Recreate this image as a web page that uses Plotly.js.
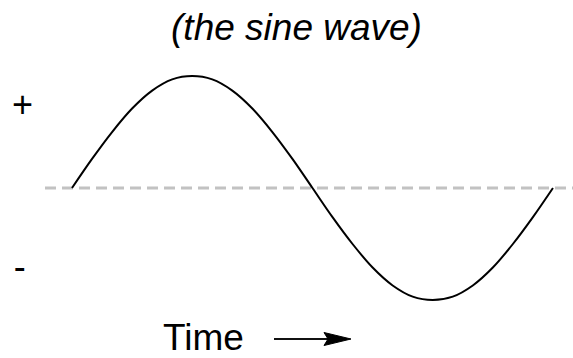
<!DOCTYPE html>
<html>
<head>
<meta charset="utf-8">
<script src="https://cdn.plot.ly/plotly-3.0.1.min.js"></script>
<style>html,body{margin:0;padding:0;background:#fff}</style>
</head>
<body>
<div id="sinePlot" style="width:573px;height:358px"></div>
<script>
// one full cycle, every 15 degrees
const phaseDeg = [0, 15, 30, 45, 60, 75, 90, 105, 120, 135, 150, 165, 180,
                  195, 210, 225, 240, 255, 270, 285, 300, 315, 330, 345, 360];
const amplitude = [0, 0.26, 0.5, 0.71, 0.87, 0.97, 1, 0.97, 0.87, 0.71, 0.5, 0.26, 0,
                   -0.26, -0.5, -0.71, -0.87, -0.97, -1, -0.97, -0.87, -0.71, -0.5, -0.26, 0];

const levelVals = [0.75, -0.7];
const levelText = ['+', '-\u2009'];

const FONT = 'Liberation Sans, Arial, sans-serif';

const drawSine = () => {
    const data = [{
        x: phaseDeg,
        y: amplitude,
        type: 'scatter',
        mode: 'lines',
        line: { color: '#000', width: 2, shape: 'spline', smoothing: 1 },
        hoverinfo: 'skip'
    }];

    // arrow after "Time", in paper units (plot spans x 45..573 px)
    const px = (p) => (p - 45) / 528;
    const arrowY = 1 - 339 / 358;

    const layout = {
        width: 573,
        height: 358,
        margin: { l: 45, r: 0, t: 0, b: 0 },
        paper_bgcolor: '#fff',
        plot_bgcolor: '#fff',
        showlegend: false,
        title: {
            text: '(the sine wave)',
            font: { family: FONT, size: 37, style: 'italic', color: '#000' },
            xref: 'container', x: 296.5 / 573, xanchor: 'center',
            yref: 'container', y: 1 - 27 / 358, yanchor: 'middle'
        },
        xaxis: {
            range: [-20.2, 375],
            showgrid: false, zeroline: false, showline: false,
            showticklabels: false, ticks: ''
        },
        yaxis: {
            range: [-1.518, 1.679],
            showgrid: false, zeroline: false, showline: false,
            tickvals: levelVals,
            ticktext: levelText,
            ticks: '',
            ticklabelstandoff: 11,
            tickfont: { family: FONT, size: 36, color: '#000' }
        },
        shapes: [{
            type: 'line', xref: 'paper', yref: 'y',
            x0: 0, x1: 1, y0: 0, y1: 0,
            line: { color: '#c2c2c2', width: 3, dash: '11px,6px' },
            layer: 'below'
        }, {
            type: 'line', xref: 'paper', yref: 'paper',
            x0: px(274), x1: px(330), y0: arrowY, y1: arrowY,
            line: { color: '#111', width: 2 }
        }, {
            type: 'path', xref: 'paper', yref: 'paper',
            xsizemode: 'pixel', ysizemode: 'pixel',
            xanchor: px(351), yanchor: arrowY,
            path: 'M0,0 L-27,6.5 L-23,0 L-27,-6.5 Z',
            fillcolor: '#000',
            line: { color: '#000', width: 1 }
        }],
        annotations: [{
            text: 'Time',
            xref: 'paper', yref: 'paper',
            x: px(203.5), y: 1 - 337 / 358,
            xanchor: 'center', yanchor: 'middle',
            showarrow: false,
            font: { family: FONT, size: 37, color: '#000' }
        }]
    };

    Plotly.newPlot('sinePlot', data, layout, { displayModeBar: false, staticPlot: true });
}

drawSine();
</script>
</body>
</html>
